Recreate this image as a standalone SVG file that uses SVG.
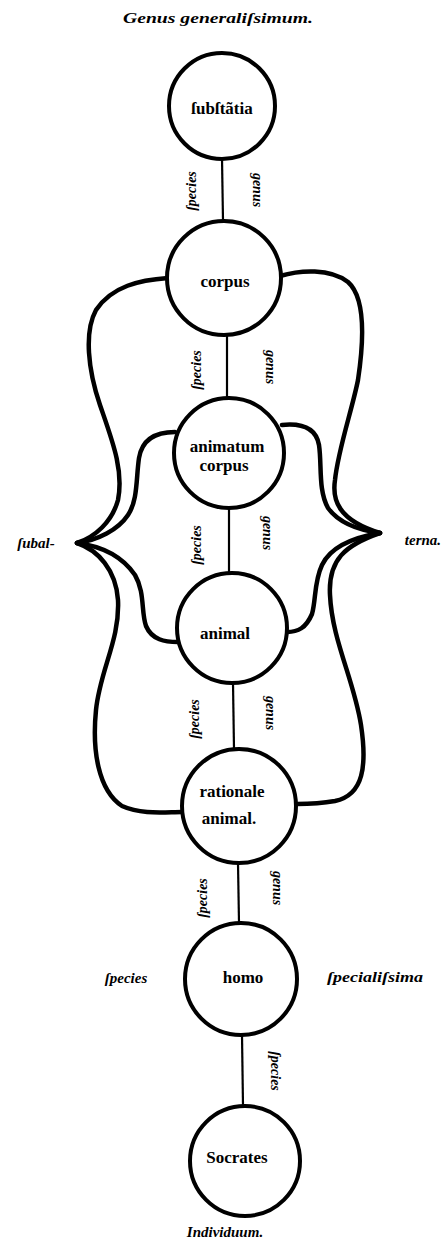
<svg xmlns="http://www.w3.org/2000/svg" width="448" height="1245" viewBox="0 0 448 1245">
<style>
.node{fill:#fff;stroke:#000;stroke-width:4}
.lbl{font-family:"Liberation Serif","DejaVu Serif",serif;font-weight:bold;font-size:17px;fill:#000;text-anchor:middle}
.edge{stroke:#000;stroke-width:2.2;fill:none}
.brace{stroke:#000;stroke-width:4.5;fill:none;stroke-linecap:round;stroke-linejoin:round}
.el{font-family:"Liberation Serif","DejaVu Serif",serif;font-weight:bold;font-style:italic;font-size:14px;fill:#000;text-anchor:middle}
.side{font-family:"Liberation Serif","DejaVu Serif",serif;font-weight:bold;font-style:italic;font-size:15px;fill:#000;text-anchor:middle}
</style>
<rect width="448" height="1245" fill="#fff"/>
<g id="connectors">
<path class="edge" d="M222 158 L223 221"/>
<path class="edge" d="M227 335 L227 398"/>
<path class="edge" d="M229 508 L229 573"/>
<path class="edge" d="M233 683 L234 749"/>
<path class="edge" d="M238 863 L239 923"/>
<path class="edge" d="M242 1035 L243 1106"/>
<text class="el" transform="translate(196,191) rotate(-90)">ſpecies</text>
<text class="el" transform="translate(253,190) rotate(90)">genus</text>
<text class="el" transform="translate(201,370) rotate(-90)">ſpecies</text>
<text class="el" transform="translate(266,367) rotate(90)">genus</text>
<text class="el" transform="translate(201,545) rotate(-90)">ſpecies</text>
<text class="el" transform="translate(263,533) rotate(90)">genus</text>
<text class="el" transform="translate(199,719) rotate(-90)">ſpecies</text>
<text class="el" transform="translate(266,713) rotate(90)">genus</text>
<text class="el" transform="translate(207,898) rotate(-90)">ſpecies</text>
<text class="el" transform="translate(273,888) rotate(90)">genus</text>
<text class="el" transform="translate(271,1071) rotate(90)">ſpecies</text>
</g>
<g id="braces">
<path class="brace" d="M168 278 C140 280 112 286 96 310 C84 332 88 370 100 405 C112 440 124 470 118 500 C112 522 95 537 77 543"/>
<path class="brace" d="M77 543 C98 550 116 570 118 600 C120 640 100 670 96 710 C92 750 98 790 122 806 C142 815 165 812 182 812"/>
<path class="brace" d="M175 432 C155 432 142 440 139 458 C136 478 138 500 128 515 C118 530 98 540 77 543"/>
<path class="brace" d="M77 543 C100 546 122 556 135 575 C145 592 141 612 146 626 C152 640 165 642 178 642"/>
<path class="brace" d="M280 276 C300 270 330 268 348 282 C366 298 364 340 358 380 C352 410 338 450 335 480 C332 500 338 520 380 533"/>
<path class="brace" d="M380 533 C345 545 328 560 330 595 C332 640 354 680 361 725 C367 765 364 795 335 801 C318 804 306 804 297 804"/>
<path class="brace" d="M282 425 C302 423 316 428 319 445 C322 465 318 490 328 508 C338 522 358 530 380 533"/>
<path class="brace" d="M380 533 C350 538 330 548 322 565 C314 582 316 600 312 614 C306 628 298 632 287 632"/>
</g>
<g id="n-substantia"><circle class="node" cx="222" cy="106" r="53"/><text class="lbl" x="222" y="114">ſubſtãtia</text></g>
<g id="n-corpus"><circle class="node" cx="224" cy="278" r="57"/><text class="lbl" x="225" y="287">corpus</text></g>
<g id="n-animatum"><circle class="node" cx="229" cy="453" r="55"/><text class="lbl" x="227" y="452">animatum</text><text class="lbl" x="224" y="471">corpus</text></g>
<g id="n-animal"><circle class="node" cx="232" cy="628" r="55"/><text class="lbl" x="225" y="639">animal</text></g>
<g id="n-rationale"><circle class="node" cx="239" cy="806" r="57"/><text class="lbl" x="232" y="797">rationale</text><text class="lbl" x="229" y="824">animal.</text></g>
<g id="n-homo"><circle class="node" cx="241" cy="979" r="56"/><text class="lbl" x="243" y="983">homo</text></g>
<g id="n-socrates"><circle class="node" cx="245" cy="1161" r="55"/><text class="lbl" x="237" y="1163">Socrates</text></g>
<g id="labels">
<text class="side" x="218" y="23" font-size="17" textLength="190" lengthAdjust="spacingAndGlyphs">Genus generaliſsimum.</text>
<text class="side" x="36" y="548">ſubal-</text>
<text class="side" x="423" y="545">terna.</text>
<text class="side" x="126" y="983">ſpecies</text>
<text class="side" x="375" y="982" textLength="96" lengthAdjust="spacingAndGlyphs">ſpecialiſsima</text>
<text class="side" x="225" y="1237" font-size="13">Individuum.</text>
</g>
</svg>
